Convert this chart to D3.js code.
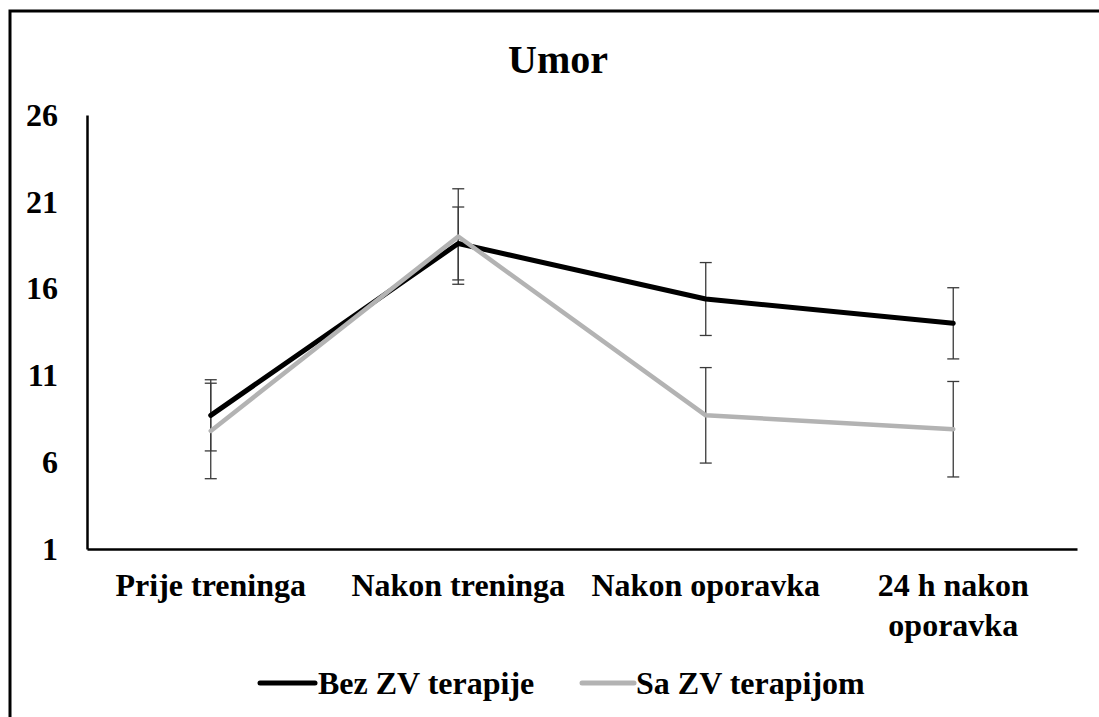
<!DOCTYPE html>
<html>
<head>
<meta charset="utf-8">
<script src="https://cdn.jsdelivr.net/npm/d3@7/dist/d3.min.js"></script>
<style>
  html, body { margin: 0; padding: 0; background: #fff; }
  svg { display: block; }
</style>
</head>
<body>
<svg id="chart" width="1099" height="717"></svg>
<script>
// Fatigue scores (Umor) at four time points, two groups, with error bars
const categories = [["Prije treninga"], ["Nakon treninga"], ["Nakon oporavka"], ["24 h nakon", "oporavka"]];
const seriesNames = ["Bez ZV terapije", "Sa ZV terapijom"];
const bezValues = [8.7, 18.6, 15.4, 14.0];
const bezErrors = [2.05, 2.1, 2.1, 2.05];
const saValues = [7.8, 19.0, 8.7, 7.9];
const saErrors = [2.75, 2.75, 2.75, 2.75];
const yTicks = [1, 6, 11, 16, 21, 26];

const FONT = "'Liberation Serif', 'Times New Roman', Times, 'DejaVu Serif', serif";

const svg = d3.select("#chart")
  .attr("font-family", FONT)
  .attr("font-weight", "bold");
const W = 1099, H = 717;

function styleText(sel, size) {
  return sel.style("font-family", FONT).style("font-weight", "bold")
    .style("font-size", size + "px").attr("fill", "#000");
}

// Outer frame (runs off the right and bottom edges)
svg.append("rect")
  .attr("x", 10).attr("y", 11)
  .attr("width", W + 20).attr("height", H + 20)
  .attr("fill", "none").attr("stroke", "#000").attr("stroke-width", 3);

const plotLeft = 87, plotRight = 1077, plotTop = 115, plotBottom = 549;

const x = d3.scaleBand().domain(d3.range(categories.length)).range([plotLeft, plotRight]);
const xc = i => x(i) + x.bandwidth() / 2;
const y = d3.scaleLinear().domain([1, 26]).range([plotBottom, plotTop]);

// Title
styleText(svg.append("text")
  .attr("x", 558).attr("y", 73)
  .attr("text-anchor", "middle"), 40)
  .text("Umor");

// Y axis
const yAxis = d3.axisLeft(y).tickValues(yTicks).tickSize(0).tickPadding(29);
const gy = svg.append("g").attr("transform", `translate(${plotLeft},0)`).call(yAxis);
gy.attr("font-family", null).attr("font-size", null);
gy.select(".domain").attr("stroke", "#000").attr("stroke-width", 2.5);
styleText(gy.selectAll("text"), 32);

// X axis line
const xAxis = d3.axisBottom(x).tickSize(0).tickFormat("");
const gx = svg.append("g").attr("transform", `translate(0,${plotBottom})`).call(xAxis);
gx.select(".domain").attr("stroke", "#000").attr("stroke-width", 2.5);

// Category labels (multi-line)
categories.forEach((lines, i) => {
  const t = styleText(svg.append("text")
    .attr("x", xc(i)).attr("y", 596)
    .attr("text-anchor", "middle"), 32);
  lines.forEach((ln, k) => {
    t.append("tspan").attr("x", xc(i)).attr("dy", k === 0 ? 0 : 40).text(ln);
  });
});

// Error bars
const capHalf = 6;
function errorBars(values, errors) {
  const g = svg.append("g").attr("stroke", "#3a3a3a").attr("stroke-width", 1.3).attr("fill", "none");
  values.forEach((v, i) => {
    const cx = xc(i), y1 = y(v + errors[i]), y2 = y(v - errors[i]);
    g.append("line").attr("x1", cx).attr("x2", cx).attr("y1", y1).attr("y2", y2);
    g.append("line").attr("x1", cx - capHalf).attr("x2", cx + capHalf).attr("y1", y1).attr("y2", y1);
    g.append("line").attr("x1", cx - capHalf).attr("x2", cx + capHalf).attr("y1", y2).attr("y2", y2);
  });
}
errorBars(bezValues, bezErrors);
errorBars(saValues, saErrors);

// Lines
const line = d3.line().x((d, i) => xc(i)).y(d => y(d));
svg.append("path").datum(bezValues)
  .attr("d", line).attr("fill", "none")
  .attr("stroke", "#000").attr("stroke-width", 5)
  .attr("stroke-linecap", "round").attr("stroke-linejoin", "round");
svg.append("path").datum(saValues)
  .attr("d", line).attr("fill", "none")
  .attr("stroke", "#b3b3b3").attr("stroke-width", 4.5)
  .attr("stroke-linecap", "round").attr("stroke-linejoin", "round");

// Legend
const legendItems = [
  { name: seriesNames[0], color: "#000", x1: 260, x2: 315, tx: 318 },
  { name: seriesNames[1], color: "#b3b3b3", x1: 582, x2: 634, tx: 636 }
];
legendItems.forEach(it => {
  svg.append("line")
    .attr("x1", it.x1).attr("x2", it.x2).attr("y1", 683).attr("y2", 683)
    .attr("stroke", it.color).attr("stroke-width", 5).attr("stroke-linecap", "round");
  styleText(svg.append("text")
    .attr("x", it.tx).attr("y", 694), 32)
    .text(it.name);
});
</script>
</body>
</html>
